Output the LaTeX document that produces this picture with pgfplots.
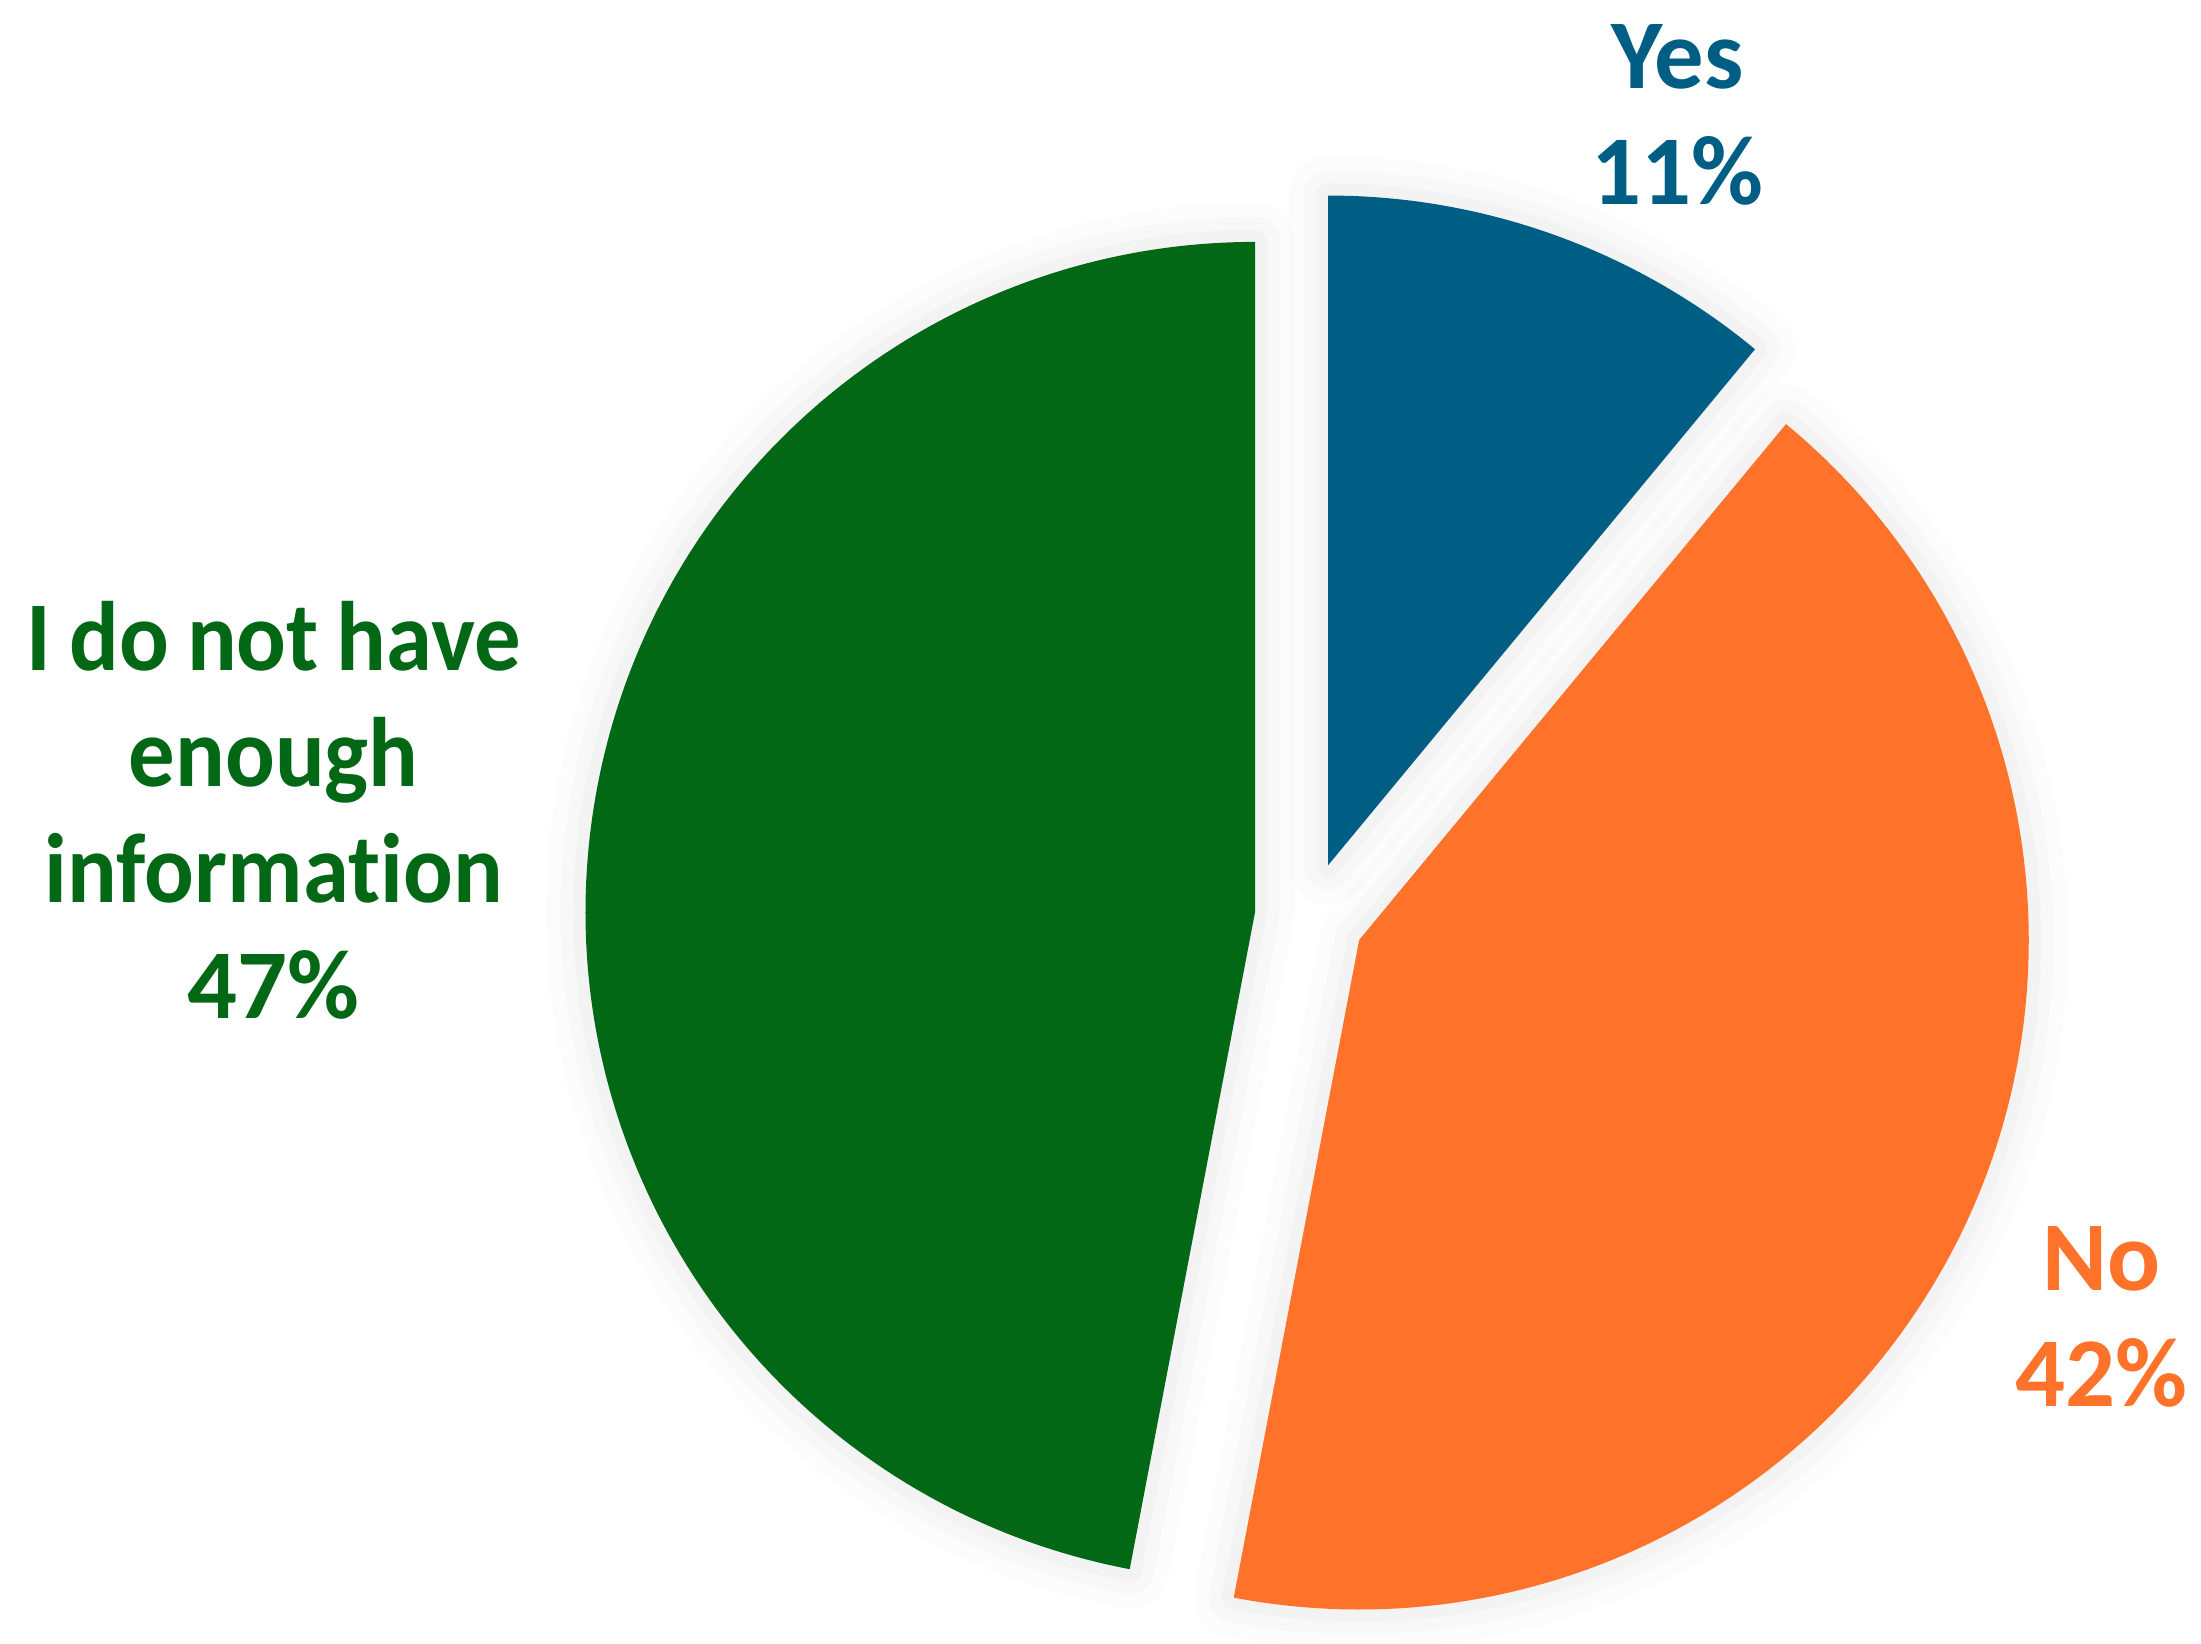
\documentclass[border=0pt]{standalone}
\usepackage{pgfplots}
\pgfplotsset{compat=1.18}
\usepackage{pgfplotstable}
\usepackage{fontspec}
\setmainfont{Carlito}[Ligatures=NoCommon, WordSpace=0.85]

\definecolor{yescol}{HTML}{005E84}
\definecolor{nocol}{HTML}{FF7229}
\definecolor{infocol}{HTML}{036816}

\pgfplotstableread{
label value
Yes 11
No 42
Info 47
}\piedata

% path of one exploded wedge: start angle, end angle
\newcommand\piewedge[2]{(axis cs:933,518) ++({(#1+#2)/2}:0.39cm) -- ++(#1:4.77cm)
  arc[start angle=#1, end angle=#2, radius=4.77cm] -- cycle}
\tikzset{halo/.style={draw=black, opacity=#1, line join=round}}

\newcommand\pieslice[3]{%
  \draw[halo=0.01, line width=16pt] \piewedge{#1}{#2};
  \draw[halo=0.015, line width=10pt] \piewedge{#1}{#2};
  \draw[halo=0.02, line width=5pt] \piewedge{#1}{#2};
  \fill[#3] \piewedge{#1}{#2};
}
\newcommand\narrow[1]{{\addfontfeature{FakeStretch=0.94}#1}}

\begin{document}
\begin{tikzpicture}
\pgfplotstablegetelem{0}{value}\of\piedata \let\vYes\pgfplotsretval
\pgfplotstablegetelem{1}{value}\of\piedata \let\vNo\pgfplotsretval
\pgfplotstablegetelem{2}{value}\of\piedata \let\vInfo\pgfplotsretval
\pgfmathsetmacro\aA{90-3.6*\vYes}
\pgfmathsetmacro\aB{\aA-3.6*\vNo}
\pgfmathsetmacro\aC{\aB-3.6*\vInfo}
\begin{axis}[
    scale only axis,
    width=15.68cm, height=11.71cm,
    xmin=0, xmax=1568, ymin=0, ymax=1171,
    hide axis, clip=false,
]
\coordinate (bl) at (rel axis cs:0,0);
\coordinate (tr) at (rel axis cs:1,1);
\pieslice{90}{\aA}{yescol}
\pieslice{\aA}{\aB}{nocol}
\pieslice{\aB}{\aC}{infocol}

\node[font=\fontsize{20}{23.5}\selectfont\bfseries, text=yescol, align=center]
  at (axis cs:1195,1089) {Yes\\\vYes\%};
\node[font=\fontsize{20}{23.5}\selectfont\bfseries, text=nocol, align=center]
  at (axis cs:1497,233) {No\\\vNo\%};
\node[font=\fontsize{20}{23.5}\selectfont\bfseries, text=infocol, align=center]
  at (axis cs:195,594) {\narrow{I do not have}\\\narrow{enough}\\\narrow{information}\\\vInfo\%};
\end{axis}
\pgfresetboundingbox
\useasboundingbox (bl) rectangle (tr);
\end{tikzpicture}
\end{document}
